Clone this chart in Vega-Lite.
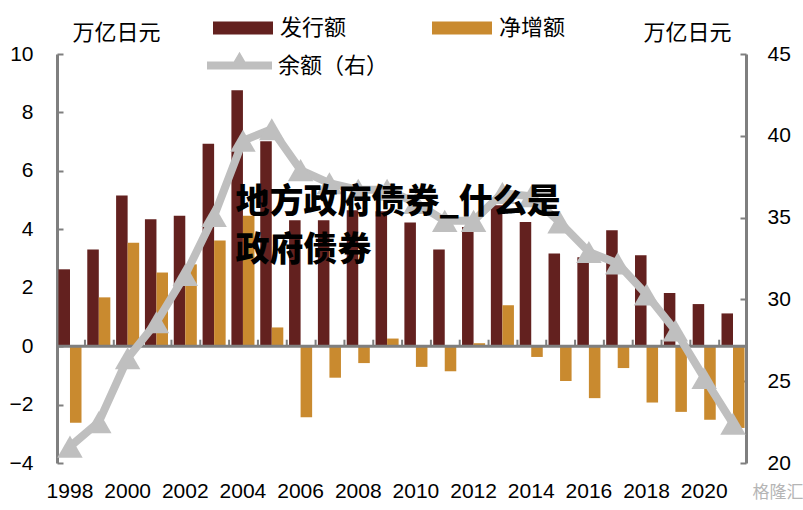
{
  "$schema": "https://vega.github.io/schema/vega-lite/v6.json",
  "width": 689,
  "height": 409,
  "autosize": {"type": "none"},
  "padding": {"left": 57, "top": 54, "right": 57, "bottom": 47},
  "background": "white",
  "config": {
    "view": {"stroke": null},
    "font": "Liberation Sans",
    "axis": {"labelFont": "Liberation Sans", "labelColor": "#000000", "titleColor": "#000000", "grid": false}
  },
  "datasets": {
    "bars": [
      {"year": "1998", "series": "发行额", "value": 2.63},
      {"year": "1998", "series": "净增额", "value": -2.62},
      {"year": "1999", "series": "发行额", "value": 3.31},
      {"year": "1999", "series": "净增额", "value": 1.67},
      {"year": "2000", "series": "发行额", "value": 5.16},
      {"year": "2000", "series": "净增额", "value": 3.54},
      {"year": "2001", "series": "发行额", "value": 4.34},
      {"year": "2001", "series": "净增额", "value": 2.52},
      {"year": "2002", "series": "发行额", "value": 4.46},
      {"year": "2002", "series": "净增额", "value": 2.8},
      {"year": "2003", "series": "发行额", "value": 6.93},
      {"year": "2003", "series": "净增额", "value": 3.62},
      {"year": "2004", "series": "发行额", "value": 8.76},
      {"year": "2004", "series": "净增额", "value": 4.46},
      {"year": "2005", "series": "发行额", "value": 7.01},
      {"year": "2005", "series": "净增额", "value": 0.64},
      {"year": "2006", "series": "发行额", "value": 4.31},
      {"year": "2006", "series": "净增额", "value": -2.43},
      {"year": "2007", "series": "发行额", "value": 4.31},
      {"year": "2007", "series": "净增额", "value": -1.08},
      {"year": "2008", "series": "发行额", "value": 4.65},
      {"year": "2008", "series": "净增额", "value": -0.58},
      {"year": "2009", "series": "发行额", "value": 4.62},
      {"year": "2009", "series": "净增额", "value": 0.26},
      {"year": "2010", "series": "发行额", "value": 4.23},
      {"year": "2010", "series": "净增额", "value": -0.71},
      {"year": "2011", "series": "发行额", "value": 3.31},
      {"year": "2011", "series": "净增额", "value": -0.86},
      {"year": "2012", "series": "发行额", "value": 4.08},
      {"year": "2012", "series": "净增额", "value": 0.1},
      {"year": "2013", "series": "发行额", "value": 4.82},
      {"year": "2013", "series": "净增额", "value": 1.4},
      {"year": "2014", "series": "发行额", "value": 4.25},
      {"year": "2014", "series": "净增额", "value": -0.37},
      {"year": "2015", "series": "发行额", "value": 3.17},
      {"year": "2015", "series": "净增额", "value": -1.19},
      {"year": "2016", "series": "发行额", "value": 3.04},
      {"year": "2016", "series": "净增额", "value": -1.78},
      {"year": "2017", "series": "发行额", "value": 3.97},
      {"year": "2017", "series": "净增额", "value": -0.75},
      {"year": "2018", "series": "发行额", "value": 3.11},
      {"year": "2018", "series": "净增额", "value": -1.93},
      {"year": "2019", "series": "发行额", "value": 1.82},
      {"year": "2019", "series": "净增额", "value": -2.25},
      {"year": "2020", "series": "发行额", "value": 1.44},
      {"year": "2020", "series": "净增额", "value": -2.52},
      {"year": "2021", "series": "发行额", "value": 1.12},
      {"year": "2021", "series": "净增额", "value": -2.8}
    ],
    "balance": [
      {"year": "1998", "value": 21.0},
      {"year": "1999", "value": 22.5},
      {"year": "2000", "value": 26.4},
      {"year": "2001", "value": 28.6},
      {"year": "2002", "value": 31.5},
      {"year": "2003", "value": 35.1},
      {"year": "2004", "value": 39.7},
      {"year": "2005", "value": 40.4},
      {"year": "2006", "value": 37.9},
      {"year": "2007", "value": 37.1},
      {"year": "2008", "value": 36.7},
      {"year": "2009", "value": 36.7},
      {"year": "2010", "value": 35.9},
      {"year": "2011", "value": 34.8},
      {"year": "2012", "value": 34.8},
      {"year": "2013", "value": 36.5},
      {"year": "2014", "value": 36.3},
      {"year": "2015", "value": 34.7},
      {"year": "2016", "value": 32.9},
      {"year": "2017", "value": 32.2},
      {"year": "2018", "value": 30.3},
      {"year": "2019", "value": 28.1},
      {"year": "2020", "value": 25.2},
      {"year": "2021", "value": 22.4}
    ]
  },
  "resolve": {
    "scale": {"y": "independent", "color": "independent"}
  },
  "layer": [
    {
      "data": {"name": "bars"},
      "mark": {"type": "bar"},
      "encoding": {
        "x": {
          "field": "year", "type": "nominal",
          "scale": {"paddingInner": 0.2, "paddingOuter": 0.05},
          "axis": {
            "orient": "bottom", "title": null, "domain": false, "ticks": false,
            "labelAngle": 0, "labelFontSize": 21, "labelPadding": 17,
            "labelExpr": "toNumber(datum.value) % 2 == 0 ? datum.value : ''"
          }
        },
        "xOffset": {
          "field": "series", "type": "nominal",
          "scale": {"domain": ["发行额", "净增额"], "paddingInner": 0, "paddingOuter": 0}
        },
        "y": {
          "field": "value", "type": "quantitative",
          "scale": {"domain": [-4, 10], "nice": false, "zero": false},
          "axis": {
            "orient": "left", "values": [-4, -2, 0, 2, 4, 6, 8, 10],
            "domainColor": "#7F7F7F", "domainWidth": 3,
            "tickColor": "#7F7F7F", "tickSize": -6, "tickWidth": 2,
            "labelFontSize": 21, "labelPadding": 30,
            "title": "万亿日元", "titleFont": "Noto Sans CJK SC", "titleFontSize": 22, "titleFontWeight": "normal",
            "titleAngle": 0, "titleAlign": "left", "titleBaseline": "middle", "titleX": 15, "titleY": -22
          }
        },
        "color": {
          "field": "series", "type": "nominal",
          "scale": {"domain": ["发行额", "净增额"], "range": ["#63211F", "#C98A2F"]},
          "legend": {
            "orient": "none", "legendX": 156, "legendY": -56,
            "direction": "horizontal", "columns": 2, "columnPadding": 85,
            "title": null, "padding": 0,
            "symbolType": "M-1,-0.22H1V0.22H-1Z", "symbolSize": 3600, "symbolStrokeWidth": 0,
            "labelFont": "Noto Sans CJK SC", "labelFontSize": 22, "labelColor": "#000000", "labelOffset": 7
          }
        }
      }
    },
    {
      "data": {"values": [{}]},
      "mark": {"type": "rule", "color": "#7F7F7F", "strokeWidth": 3},
      "encoding": {
        "y": {"datum": 0, "type": "quantitative", "scale": {"domain": [-4, 10], "nice": false, "zero": false}, "axis": null}
      }
    },
    {
      "data": {"name": "balance"},
      "transform": [{"filter": "datum.year != '1998'"}],
      "mark": {"type": "rule", "color": "#7F7F7F", "strokeWidth": 2},
      "encoding": {
        "x": {"field": "year", "type": "nominal", "bandPosition": -0.1},
        "y": {"datum": 0, "type": "quantitative", "scale": {"domain": [-4, 10], "nice": false, "zero": false}, "axis": null},
        "y2": {"datum": 0.22}
      }
    },
    {
      "data": {"name": "balance"},
      "mark": {
        "type": "line", "strokeWidth": 8,
        "point": {"shape": "triangle-up", "size": 650, "filled": true, "opacity": 1}
      },
      "encoding": {
        "x": {"field": "year", "type": "nominal"},
        "y": {
          "field": "value", "type": "quantitative",
          "scale": {"domain": [20, 45], "nice": false, "zero": false},
          "axis": {
            "orient": "right", "values": [20, 25, 30, 35, 40, 45],
            "domainColor": "#7F7F7F", "domainWidth": 3,
            "tickColor": "#7F7F7F", "tickSize": -6, "tickWidth": 2,
            "labelFontSize": 21, "labelPadding": 27,
            "title": "万亿日元", "titleFont": "Noto Sans CJK SC", "titleFontSize": 22, "titleFontWeight": "normal",
            "titleAngle": 0, "titleAlign": "left", "titleBaseline": "middle", "titleX": -103, "titleY": -22
          }
        },
        "color": {
          "datum": "余额（右）",
          "scale": {"domain": ["余额（右）"], "range": ["#BFBFBF"]},
          "legend": {
            "orient": "none", "legendX": 150, "legendY": -21,
            "title": null, "padding": 0,
            "symbolType": "M-1,-0.12H1V0.12H-1Z M0,-0.42L0.32,0.12H-0.32Z", "symbolSize": 4225,
            "symbolFillColor": "#BFBFBF", "symbolStrokeWidth": 0,
            "labelFont": "Noto Sans CJK SC", "labelFontSize": 22, "labelColor": "#000000", "labelOffset": 6
          }
        }
      }
    },
    {
      "data": {"values": [{}]},
      "mark": {"type": "text", "text": "地方政府债券_什么是", "font": "Noto Sans CJK SC", "fontSize": 34, "fontWeight": 900, "color": "#000000", "align": "left", "baseline": "middle", "dx": 4},
      "encoding": {
        "x": {"datum": "2004", "type": "nominal", "bandPosition": 0},
        "y": {"datum": 4.9, "type": "quantitative", "scale": {"domain": [-4, 10], "nice": false, "zero": false}, "axis": null}
      }
    },
    {
      "data": {"values": [{}]},
      "mark": {"type": "text", "text": "政府债券", "font": "Noto Sans CJK SC", "fontSize": 34, "fontWeight": 900, "color": "#000000", "align": "left", "baseline": "middle", "dx": 4},
      "encoding": {
        "x": {"datum": "2004", "type": "nominal", "bandPosition": 0},
        "y": {"datum": 3.27, "type": "quantitative", "scale": {"domain": [-4, 10], "nice": false, "zero": false}, "axis": null}
      }
    },
    {
      "data": {"values": [{}]},
      "mark": {"type": "text", "text": "格隆汇", "font": "Noto Sans CJK SC", "fontSize": 17, "color": "#B5B5B5", "align": "left", "baseline": "middle", "dx": 8, "dy": 30},
      "encoding": {
        "x": {"datum": "2021", "type": "nominal", "bandPosition": 1},
        "y": {"datum": -4, "type": "quantitative", "scale": {"domain": [-4, 10], "nice": false, "zero": false}, "axis": null}
      }
    }
  ]
}
